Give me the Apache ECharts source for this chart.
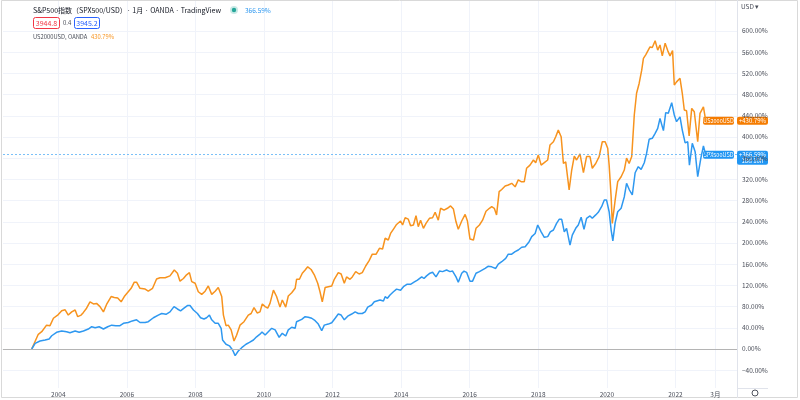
<!DOCTYPE html>
<html>
<head>
<meta charset="utf-8">
<title>S&amp;P500 vs US2000</title>
<script src="https://cdn.jsdelivr.net/npm/echarts@6.0.0/dist/echarts.min.js"></script>
<style>
  html, body { margin: 0; padding: 0; background: #fff; }
  #main { width: 800px; height: 400px; }
</style>
</head>
<body>
<div id="main"></div>
<script>
// x values are months since Jan 2003, y values are % change
const spxMonths = [
  2.7, 3.9, 5.6, 7.4, 8.8, 9.7, 11.4, 13.2, 14.9, 16.1,
  17.9, 19.3, 20.8, 22.5, 23.7, 24.9, 26.3, 27.8, 29.3, 30.7,
  32.1, 33.6, 34.8, 36.5, 37.9, 39.4, 40.6, 42.4, 43.5, 45.3,
  47.0, 48.2, 49.7, 51.1, 52.5, 53.7, 54.8, 56.0, 57.2, 58.1,
  59.3, 60.7, 61.8, 63.0, 63.9, 64.9, 65.7, 66.9, 68.0, 69.0,
  69.5, 70.7, 71.9, 73.0, 73.9, 75.0, 76.2, 77.7, 78.9, 80.3,
  81.4, 82.6, 83.3, 84.4, 85.5, 86.7, 87.9, 89.3, 90.4, 91.6,
  92.5, 93.7, 94.9, 95.4, 97.2, 98.4, 99.5, 100.7, 101.9, 103.0,
  104.2, 105.1, 106.5, 107.7, 108.9, 110.0, 111.0, 112.1, 113.3, 114.7,
  115.9, 117.0, 118.4, 119.4, 120.3, 121.7, 122.6, 124.6, 125.8, 126.4,
  127.2, 128.1, 129.3, 130.4, 131.8, 132.8, 134.0, 135.3, 136.5, 137.7,
  138.4, 139.2, 140.0, 140.9, 142.1, 143.0, 144.2, 145.4, 146.5, 147.9,
  149.1, 150.0, 151.2, 152.0, 153.2, 154.0, 154.9, 156.1, 157.0, 158.2,
  159.4, 161.4, 162.4, 163.7, 165.1, 166.0, 167.2, 168.6, 169.5, 170.7,
  171.9, 173.0, 174.2, 175.4, 176.8, 177.7, 178.9, 179.8, 181.0, 182.1,
  183.3, 184.2, 185.3, 186.4, 187.3, 188.2, 189.1, 189.9, 191.1, 191.9,
  193.1, 194.0, 195.0, 196.0, 196.9, 198.1, 198.9, 200.1, 201.0, 202.2,
  203.1, 203.9, 204.8, 205.5, 206.1, 206.9, 207.8, 209.0, 210.1, 210.9,
  211.9, 212.9, 213.9, 215.0, 216.0, 217.1, 217.9, 218.8, 219.9, 220.9,
  221.8, 222.6, 223.8, 224.6, 225.5, 226.7, 227.6, 228.4, 229.6, 230.4,
  231.4, 232.3, 232.9, 233.9, 234.9, 235.8, 236.9, 237.8, 238.6
];
const spxValues = [
  0, 10.7, 15, 17, 19, 25, 31.5, 34, 32.6, 30.7,
  34, 31.5, 34, 37.7, 42, 40, 42, 37.7, 42, 45,
  44, 44, 48.5, 50, 53, 55, 50, 50, 51.5, 59,
  64, 67, 65.5, 70, 80, 75.5, 72, 77, 82, 82,
  73.6, 67, 59, 56.6, 59, 64, 55, 48.5, 48.5, 39,
  17, 9, 6, -2, -12.6, -3.8, 2.5, 9, 12.6, 17,
  23, 28, 32, 26.4, 32.6, 39, 36, 22, 29.6, 24.5,
  36, 41, 39, 51.5, 56, 61, 60, 58, 53.4, 47,
  34.5, 45, 47, 49.6, 58, 66, 64, 55, 62, 66,
  70, 67, 67, 70, 79, 83, 89, 92.5, 90.6, 98.7,
  95.6, 102, 108, 113, 111, 117.5, 122, 122, 126, 130,
  128, 136, 133, 138, 143, 144.7, 136, 147, 146, 149,
  146, 147, 136, 126, 143, 147, 144.7, 128, 128, 143,
  146, 152, 156, 155, 152, 160, 164.7, 171, 179, 179,
  183.6, 186.8, 192, 193, 202.5, 212, 218, 234, 221, 210.7,
  212, 221, 224.5, 237, 244.7, 244.7, 221, 227.7, 196, 215,
  227.7, 234, 248.5, 225.8, 246.6, 251, 246.6, 253, 258, 269,
  281, 281, 259, 224.5, 204, 238, 259, 265.5, 287, 312.6,
  300, 290.6, 332.6, 344, 339, 351.5, 369, 395.7, 397.5, 407,
  416.4, 435, 412, 446, 444.7, 464.7, 441.5, 428.9, 438, 413,
  389, 391, 347, 388, 372, 325, 360, 383, 366.59
];
const rutMonths = [
  2.7, 5.0, 6.2, 7.9, 9.1, 10.3, 12.0, 13.2, 14.4, 15.5,
  16.7, 17.9, 18.8, 20.0, 20.8, 21.9, 23.1, 24.3, 25.4, 26.6,
  27.8, 28.9, 30.5, 31.6, 32.8, 34.0, 35.1, 37.5, 38.6, 39.4,
  40.6, 42.4, 43.5, 45.0, 46.4, 47.6, 49.4, 51.1, 52.6, 53.7,
  54.6, 55.8, 56.9, 57.9, 58.7, 59.9, 61.0, 62.2, 63.4, 64.5,
  65.7, 66.9, 68.0, 69.2, 69.8, 70.7, 71.5, 72.5, 73.5, 74.4,
  75.6, 77.0, 78.5, 79.5, 80.5, 81.6, 82.6, 83.4, 84.4, 85.3,
  86.1, 87.3, 88.4, 89.6, 90.4, 91.6, 92.5, 93.7, 94.9, 95.4,
  96.4, 97.4, 98.4, 99.3, 100.5, 101.6, 102.8, 103.6, 104.4, 105.4,
  106.5, 107.7, 108.6, 110.0, 111.0, 112.1, 112.9, 114.1, 114.9, 116.1,
  117.3, 118.4, 119.6, 120.8, 121.9, 123.2, 124.4, 125.5, 126.4, 127.5,
  128.3, 129.5, 130.4, 131.8, 132.5, 133.4, 134.5, 135.3, 136.3, 137.2,
  138.0, 138.8, 139.8, 140.7, 141.9, 143.0, 143.9, 145.0, 145.8, 147.0,
  148.2, 149.3, 150.3, 151.2, 152.0, 153.2, 154.4, 155.2, 156.1, 157.3,
  158.2, 159.4, 160.5, 161.7, 162.9, 163.7, 164.6, 165.4, 166.3, 167.2,
  168.4, 169.5, 170.7, 171.9, 173.0, 174.0, 175.1, 175.9, 177.1, 178.3,
  179.1, 180.0, 181.0, 182.1, 183.3, 184.1, 185.3, 186.1, 187.0, 188.0,
  188.8, 189.6, 190.8, 191.7, 192.6, 193.4, 194.6, 195.8, 196.9, 198.1,
  198.9, 200.1, 201.3, 202.4, 203.4, 204.3, 204.8, 205.5, 205.9, 206.9,
  207.8, 209.0, 210.1, 210.9, 211.8, 212.7, 213.6, 214.4, 215.3, 216.2,
  216.8, 217.6, 218.3, 219.1, 219.9, 220.9, 221.8, 222.6, 223.4, 224.4,
  225.3, 226.1, 227.0, 227.6, 228.4, 229.6, 230.4, 231.1, 231.9, 232.8,
  233.7, 234.6, 235.8, 236.6, 237.8, 238.6
];
const rutValues = [
  0, 27.7, 32.6, 45, 44, 58, 65, 72, 74, 64,
  70, 73.6, 61, 64, 69, 77, 89, 85, 86, 80,
  70, 84, 99, 97, 96, 89, 99, 114.5, 126, 126,
  114.5, 113, 109, 114.5, 132, 134.5, 134.5, 138, 149, 143,
  128, 133, 140, 144, 127, 124, 108, 103, 109, 119,
  103, 109, 116, 99, 64, 44, 45, 36, 15, 26,
  45, 51.5, 64, 67, 78, 68, 70, 85, 80, 77,
  86, 111, 99, 79, 92.5, 79, 100, 106, 114.5, 131.5,
  131.5, 143, 149, 155, 150, 140, 124, 108, 89, 116,
  117.5, 119, 131.5, 144, 141.5, 124, 136, 131.5, 136, 146,
  141.5, 144, 156.6, 166.6, 179, 178.7, 190, 188.7, 209, 205.7,
  218, 227.7, 235, 241.5, 234, 247.7, 245, 232.6, 234, 251.5,
  230.8, 243, 227.7, 237, 246.6, 247.7, 258, 243, 265.5, 262,
  265.5, 270, 264, 240, 226, 241.5, 254, 241.5, 207.5, 205.7,
  227.7, 234, 243, 260, 265.5, 268.5, 265.5, 253, 297, 301,
  307.5, 309.4, 312.6, 306, 319, 315.7, 315.7, 341, 347, 356.6,
  351.5, 366, 347, 351.5, 356.6, 385, 391, 400.6, 413, 400.6,
  350, 353, 300, 337.7, 364, 356.6, 368, 332.6, 363, 363,
  341, 350, 363, 391, 391, 378.7, 347, 287, 237, 281,
  315.7, 325, 337.7, 360, 350, 363, 441.5, 482.5, 501, 526,
  548.5, 555, 558, 570, 569, 581.7, 564, 573.6, 553, 577,
  563, 553, 563, 498, 504, 510.7, 482.5, 451, 449.6, 402,
  454, 447.7, 391, 444.7, 457, 430.79
];
const xTicks = [12, 36, 60, 84, 108, 132, 156, 180, 204, 228, 242];
const xTickLabels = ['2004', '2006', '2008', '2010', '2012', '2014', '2016', '2018', '2020', '2022', '3月'];
const yTicks = [-40, 0, 40, 80, 120, 160, 200, 240, 280, 320, 360, 400, 440, 480, 520, 560, 600];

const FONT = '"Noto Sans CJK JP", "Noto Sans", sans-serif';
const ORANGE = '#f7931e';
const BLUE = '#2e98f0';
const TXT = '#4a4e59';

const lastSpx = spxValues[spxValues.length - 1];
const lastRut = rutValues[rutValues.length - 1];

function pairs(xs, ys) {
  return xs.map((x, i) => [x, ys[i]]);
}

const chart = echarts.init(document.getElementById('main'));

chart.setOption({
  animation: false,
  backgroundColor: '#fff',
  textStyle: { fontFamily: FONT },
  grid: { left: 3, right: 63, top: 0, bottom: 12 },
  xAxis: {
    type: 'value',
    min: -7.35,
    max: 249.55,
    axisLine: { show: true, lineStyle: { color: '#e0e3eb' } },
    axisTick: { show: false, customValues: xTicks },
    axisLabel: {
      customValues: xTicks,
      formatter: v => xTickLabels[xTicks.indexOf(v)],
      fontSize: 6.5, color: TXT, margin: 3, fontFamily: FONT
    },
    splitLine: { show: true, lineStyle: { color: '#f0f3fa' } }
  },
  yAxis: {
    type: 'value',
    position: 'right',
    min: -73.6,
    max: 658.5,
    axisLine: { show: false },
    axisTick: { show: false, customValues: yTicks },
    axisLabel: {
      customValues: yTicks,
      formatter: v => (v < 0 ? '\u2212' + (-v).toFixed(2) : v.toFixed(2)) + '%',
      fontSize: 6.5, color: TXT, margin: 5, fontFamily: FONT, align: 'left'
    },
    splitLine: { show: true, lineStyle: { color: '#f0f3fa' } }
  },
  series: [
    {
      name: 'US2000USD',
      type: 'line',
      data: pairs(rutMonths, rutValues),
      showSymbol: false,
      lineStyle: { color: ORANGE, width: 1.5 },
      itemStyle: { color: ORANGE },
      markLine: {
        silent: true,
        symbol: 'none',
        label: { show: false },
        lineStyle: { color: '#b4b4b4', type: 'solid', width: 1 },
        data: [{ yAxis: 0 }]
      }
    },
    {
      name: 'SPX500USD',
      type: 'line',
      data: pairs(spxMonths, spxValues),
      showSymbol: false,
      lineStyle: { color: BLUE, width: 1.5 },
      itemStyle: { color: BLUE },
      markLine: {
        silent: true,
        symbol: 'none',
        label: { show: false },
        lineStyle: { color: '#42a5f5', type: [2, 2], width: 1, opacity: 0.7 },
        data: [{ yAxis: lastSpx }]
      }
    }
  ]
});

// price tags and header texts
const yRut = chart.convertToPixel({ yAxisIndex: 0 }, lastRut);
const ySpx = chart.convertToPixel({ yAxisIndex: 0 }, lastSpx);

function txt(x, y, text, color, size, align) {
  return {
    type: 'text', x: x, y: y, silent: true,
    style: { text: text, fill: color, font: size + 'px ' + FONT, align: align || 'left', verticalAlign: 'middle' }
  };
}
function box(x, y, w, h, fill, stroke) {
  return {
    type: 'rect', silent: true,
    shape: { x: x, y: y, width: w, height: h, r: 2 },
    style: { fill: fill, stroke: stroke || null, lineWidth: 1 }
  };
}

chart.setOption({
  graphic: [
    { type: 'rect', silent: true, shape: { x: 1.5, y: 0.5, width: 796, height: 397 }, style: { fill: null, stroke: '#d9d9d9' } },
    { type: 'line', silent: true, shape: { x1: 737.5, y1: 0, x2: 737.5, y2: 398 }, style: { stroke: '#e0e3eb' } },
    { type: 'line', silent: true, shape: { x1: 737, y1: 388.5, x2: 768, y2: 388.5 }, style: { stroke: '#e0e3eb' } },
    { type: 'circle', silent: true, shape: { cx: 755, cy: 393, r: 3 }, style: { fill: null, stroke: '#50535e', lineWidth: 1 } },
    txt(741, 7, 'USD ▾', TXT, 6.5),

    txt(33, 10, 'S&P500指数（SPX500/USD）· 1月 · OANDA · TradingView', '#131722', 7),
    { type: 'circle', silent: true, shape: { cx: 234, cy: 10, r: 4 }, style: { fill: 'rgba(38,166,154,0.25)' } },
    { type: 'circle', silent: true, shape: { cx: 234, cy: 10, r: 2.2 }, style: { fill: '#26a69a' } },
    txt(245, 10.5, '366.59%', BLUE, 6.5),
    box(33.5, 17.5, 26, 11, '#fff', '#f23645'),
    txt(46.5, 23, '3944.8', '#f23645', 7, 'center'),
    txt(63, 23, '0.4', TXT, 6),
    box(74.5, 17.5, 25, 11, '#fff', '#2962ff'),
    txt(87, 23, '3945.2', '#2962ff', 7, 'center'),
    txt(33, 37, 'US2000USD, OANDA', TXT, 5.8),
    txt(91, 37, '430.79%', ORANGE, 5.8),

    box(703, yRut - 4, 31, 8, '#f57c00'),
    txt(718.5, yRut, 'US2000USD', '#fff', 5.5, 'center'),
    box(737, yRut - 4, 31, 8, '#f57c00'),
    txt(752.5, yRut, '+' + lastRut.toFixed(2) + '%', '#fff', 6, 'center'),

    box(703, ySpx - 4, 31, 8, '#2196f3'),
    txt(718.5, ySpx, 'SPX500USD', '#fff', 5.5, 'center'),
    box(737, ySpx - 4, 31, 14, '#2196f3'),
    txt(752.5, ySpx, '+' + lastSpx.toFixed(2) + '%', '#fff', 6, 'center'),
    txt(752.5, ySpx + 6.5, '18d 10h', '#fff', 6, 'center')
  ]
});
</script>
</body>
</html>
